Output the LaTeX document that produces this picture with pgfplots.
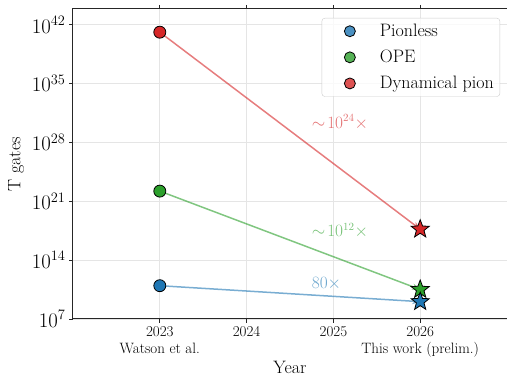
\documentclass[border=0pt]{standalone}
\usepackage{pgfplots}
\pgfplotsset{compat=1.18}
\usetikzlibrary{arrows.meta}
\definecolor{tabblue}{HTML}{1F77B4}
\definecolor{tabgreen}{HTML}{2CA02C}
\definecolor{tabred}{HTML}{D62728}
\pgfdeclareplotmark{fstar}{%
 \pgfpathmoveto{\pgfpointpolar{90}{\pgfplotmarksize}}%
 \pgfpathlineto{\pgfpointpolar{126}{0.42\pgfplotmarksize}}%
 \pgfpathlineto{\pgfpointpolar{162}{\pgfplotmarksize}}%
 \pgfpathlineto{\pgfpointpolar{198}{0.42\pgfplotmarksize}}%
 \pgfpathlineto{\pgfpointpolar{234}{\pgfplotmarksize}}%
 \pgfpathlineto{\pgfpointpolar{270}{0.42\pgfplotmarksize}}%
 \pgfpathlineto{\pgfpointpolar{306}{\pgfplotmarksize}}%
 \pgfpathlineto{\pgfpointpolar{342}{0.42\pgfplotmarksize}}%
 \pgfpathlineto{\pgfpointpolar{18}{\pgfplotmarksize}}%
 \pgfpathlineto{\pgfpointpolar{54}{0.42\pgfplotmarksize}}%
 \pgfpathclose
 \pgfusepathqfillstroke
}
\begin{document}
\begin{tikzpicture}
\begin{axis}[
 scale only axis, width=434pt, height=310pt,
 ymode=log, log basis y=10,
 xmin=2022, xmax=2027, ymin=1e7, ymax=7.2e43,
 xtick={2023,2024,2025,2026},
 xticklabels={{2023\\Watson et al.},2024,2025,{2026\\This work (prelim.)}},
 x tick label style={align=center, font=\fontsize{15}{17}\selectfont},
 ytick={1e7,1e14,1e21,1e28,1e35,1e42},
 yminorticks=false,
 y tick label style={font=\fontsize{21}{21}\selectfont},
 grid=major,
 major grid style={black!10, line width=0.8pt},
 axis line style={line width=1pt, black!85},
 tick style={black!85, line width=0.8pt},
 tick align=outside, major tick length=4pt,
 xlabel={Year}, ylabel={T gates},
 xlabel style={at={(axis description cs:0.5,-0.1774)}, anchor=base, font=\fontsize{18}{18}\selectfont},
 ylabel style={at={(axis description cs:-0.131,0.5)}, anchor=center, font=\fontsize{18}{18}\selectfont},
 legend style={at={(0.984,0.971)}, anchor=north east, draw=black!20, rounded corners=3pt,
   fill=white, fill opacity=0.8, text opacity=1, font=\fontsize{18}{18}\selectfont,
   row sep=8pt, inner sep=4pt, legend cell align=left,
   nodes={inner sep=2pt}},
 legend image code/.code={\path (7pt,-1pt) (59pt,1pt); \draw[only marks, mark size=5.5pt] plot coordinates {(31pt,0pt)};},
 /tikz/every even column/.append style={column sep=4pt},
 clip=false,
]
% arrows
\addplot[tabblue, opacity=0.6, line width=1.5pt, -{Stealth[length=8pt,width=6pt]}, forget plot] coordinates {(2023,9.1e10) (2026,1.15e9)};
\addplot[tabgreen, opacity=0.6, line width=1.5pt, -{Stealth[length=8pt,width=6pt]}, forget plot] coordinates {(2023,1.6e22) (2026,3.2e10)};
\addplot[tabred, opacity=0.6, line width=1.5pt, -{Stealth[length=8pt,width=6pt]}, forget plot] coordinates {(2023,1.26e41) (2026,4.7e17)};
% 2023 circles
\addplot[draw=none, mark=*, mark size=6pt, mark options={fill=tabblue, draw=black, line width=0.8pt}] coordinates {(2023,9.1e10)};
\addlegendentry{\strut Pionless}
\addplot[draw=none, mark=*, mark size=6pt, mark options={fill=tabgreen, draw=black, line width=0.8pt}] coordinates {(2023,1.6e22)};
\addlegendentry{\strut OPE}
\addplot[draw=none, mark=*, mark size=6pt, mark options={fill=tabred, draw=black, line width=0.8pt}] coordinates {(2023,1.26e41)};
\addlegendentry{\strut Dynamical pion}
% 2026 stars
\addplot[only marks, mark=fstar, mark size=9.5pt, mark options={fill=tabred, draw=black, line width=0.8pt}, forget plot] coordinates {(2026,4.7e17)};
\addplot[only marks, mark=fstar, mark size=9.5pt, mark options={fill=tabgreen, draw=black, line width=0.8pt}, forget plot] coordinates {(2026,3.2e10)};
\addplot[only marks, mark=fstar, mark size=9.5pt, mark options={fill=tabblue, draw=black, line width=0.8pt}, forget plot] coordinates {(2026,1.15e9)};
% annotations
\node[anchor=west, text=tabred!65!white, font=\fontsize{16}{16}\selectfont, inner sep=0pt] at (axis cs:2024.75,2.5e30) {$\sim\!10^{24}\times$};
\node[anchor=west, text=tabgreen!65!white, font=\fontsize{16}{16}\selectfont, inner sep=0pt] at (axis cs:2024.75,3.2e17) {$\sim\!10^{12}\times$};
\node[anchor=west, text=tabblue!65!white, font=\fontsize{16}{16}\selectfont, inner sep=0pt] at (axis cs:2024.75,1.6e11) {$80\times$};
\end{axis}
\pgfresetboundingbox
\path[use as bounding box] ([xshift=-73pt,yshift=-58pt]current axis.south west) rectangle ([yshift=9pt]current axis.north east);
\end{tikzpicture}
\end{document}
